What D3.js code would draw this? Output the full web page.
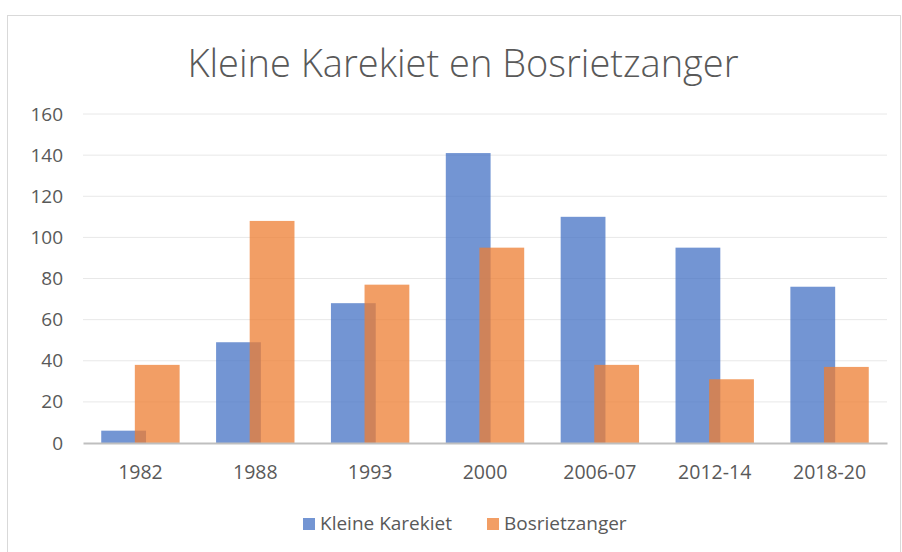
<!DOCTYPE html>
<html>
<head>
<meta charset="utf-8">
<script src="https://cdn.jsdelivr.net/npm/d3@7"></script>
<style>
  body { margin: 0; background: #fff; }
  text { font-family: "Open Sans", "Noto Sans", sans-serif; fill: #595959; }
</style>
</head>
<body>
<svg id="chart" width="902" height="552"></svg>
<script>
// chart data
let categories = ['1982', '1988', '1993', '2000', '2006-07', '2012-14', '2018-20'];
let kleineKarekiet = [6, 49, 68, 141, 110, 95, 76];
let bosrietzanger = [38, 108, 77, 95, 38, 31, 37];
let yTicks = [0, 20, 40, 60, 80, 100, 120, 140, 160];
let seriesNames = ['Kleine Karekiet', 'Bosrietzanger'];
let colors = ['#4472C4', '#ED7D31'];

let svg = d3.select('#chart');

// chart frame
svg.append('rect')
    .attr('x', 7.5).attr('y', 15.5)
    .attr('width', 893).attr('height', 560)
    .attr('fill', '#fff')
    .attr('stroke', '#d9d9d9');

let plotLeft = 83, plotRight = 887, plotTop = 114, plotBottom = 443;

let x = d3.scaleBand().domain(categories).range([plotLeft, plotRight]);
let y = d3.scaleLinear().domain([0, 160]).range([plotBottom, plotTop]);

// gridlines
svg.append('g')
    .selectAll('line')
    .data(yTicks.slice(1))
    .enter().append('line')
    .attr('x1', plotLeft).attr('x2', plotRight)
    .attr('y1', d => y(d)).attr('y2', d => y(d))
    .attr('stroke', '#e8e8e8')
    .attr('stroke-width', 1);

// y axis labels
let yAxis = d3.axisLeft(y).tickValues(yTicks).tickSize(0).tickPadding(20);
let gy = svg.append('g').attr('transform', 'translate(' + plotLeft + ',0)').call(yAxis);
gy.select('.domain').remove();
gy.selectAll('text').style('font-size', '19px').attr('fill', '#595959');

// bars: Excel-like overlap
let bw = x.bandwidth();
let w = bw * 0.39;
let overlap = w * 0.25;
let offset = (bw - (2 * w - overlap)) / 2;

let series = [kleineKarekiet, bosrietzanger];
series.forEach((values, s) => {
    svg.append('g')
        .selectAll('rect')
        .data(values)
        .enter().append('rect')
        .attr('x', (d, i) => x(categories[i]) + offset + s * (w - overlap))
        .attr('y', d => y(d))
        .attr('width', w)
        .attr('height', d => plotBottom - y(d))
        .attr('fill', colors[s])
        .attr('fill-opacity', 0.75);
});

// x axis
let xAxis = d3.axisBottom(x).tickSize(0).tickPadding(22);
let gx = svg.append('g').attr('transform', 'translate(0,' + plotBottom + ')').call(xAxis);
gx.select('.domain').attr('stroke', '#bfbfbf').attr('stroke-width', 2);
gx.selectAll('text').style('font-size', '19.5px').attr('fill', '#595959');

// title
svg.append('text')
    .attr('x', 463).attr('y', 77)
    .attr('text-anchor', 'middle')
    .style('font-size', '38px')
    .style('font-weight', 300)
    .text('Kleine Karekiet en Bosrietzanger');

// legend
let legendX = [303, 487];
seriesNames.forEach((name, s) => {
    svg.append('rect')
        .attr('x', legendX[s]).attr('y', 518)
        .attr('width', 12).attr('height', 12)
        .attr('fill', colors[s])
        .attr('fill-opacity', 0.75);
    svg.append('text')
        .attr('x', legendX[s] + 17).attr('y', 530)
        .style('font-size', '19px')
        .text(name);
});
</script>
</body>
</html>
